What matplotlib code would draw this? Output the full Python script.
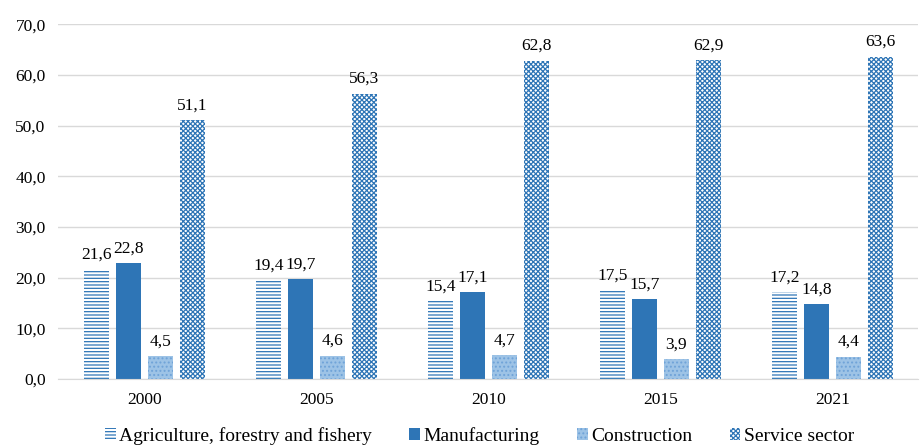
import matplotlib.pyplot as plt
import numpy as np

plt.rcParams['font.family'] = ['Liberation Serif', 'DejaVu Serif']
plt.rcParams['hatch.linewidth'] = 0.9

years = ['2000', '2005', '2010', '2015', '2021']
agriculture = [21.6, 19.4, 15.4, 17.5, 17.2]
manufacturing = [22.8, 19.7, 17.1, 15.7, 14.8]
construction = [4.5, 4.6, 4.7, 3.9, 4.4]
service = [51.1, 56.3, 62.8, 62.9, 63.6]

series = [
    ('Agriculture, forestry and fishery', agriculture, dict(facecolor='white', edgecolor='#2E75B6', hatch='-----')),
    ('Manufacturing', manufacturing, dict(facecolor='#2E75B6', edgecolor='#2E75B6')),
    ('Construction', construction, dict(facecolor='#9DC3E6', edgecolor='#6FA3D8', hatch='....')),
    ('Service sector', service, dict(facecolor='white', edgecolor='#2E75B6', hatch='xxxxxxx')),
]

fig = plt.figure(figsize=(9.23, 4.48), dpi=100)
ax = fig.add_axes([0.063, 0.154, 0.932, 0.792])

x = np.arange(len(years))
w = 0.145
step = 0.186
for i, (name, vals, style) in enumerate(series):
    pos = x + (i - 1.5) * step
    bars = ax.bar(pos, vals, w, label=name, linewidth=0, **style)
    for b, v in zip(bars, vals):
        ax.text(b.get_x() + b.get_width() / 2, v + 1.3, f'{v:.1f}'.replace('.', ','),
                ha='center', va='bottom', fontsize=12.5)

ax.set_ylim(0, 70)
ax.set_xlim(-0.5, len(years) - 0.5)
ax.set_yticks(np.arange(0, 71, 10))
ax.set_yticklabels([f'{t:.1f}'.replace('.', ',') for t in np.arange(0, 71, 10)], fontsize=12.5)
ax.set_xticks(x)
ax.set_xticklabels(years, fontsize=12.5)
ax.tick_params(length=0, pad=9)
ax.yaxis.grid(True, color='#D9D9D9', linewidth=1)
ax.set_axisbelow(True)
for s in ['top', 'right', 'left']:
    ax.spines[s].set_visible(False)
ax.spines['bottom'].set_color('#D9D9D9')

ax.legend(loc='upper center', bbox_to_anchor=(0.49, -0.085), ncol=4, frameon=False,
          fontsize=14, handlelength=0.55, handleheight=0.55, handletextpad=0.2, columnspacing=1.9)

fig.savefig('out.png', dpi=100)
